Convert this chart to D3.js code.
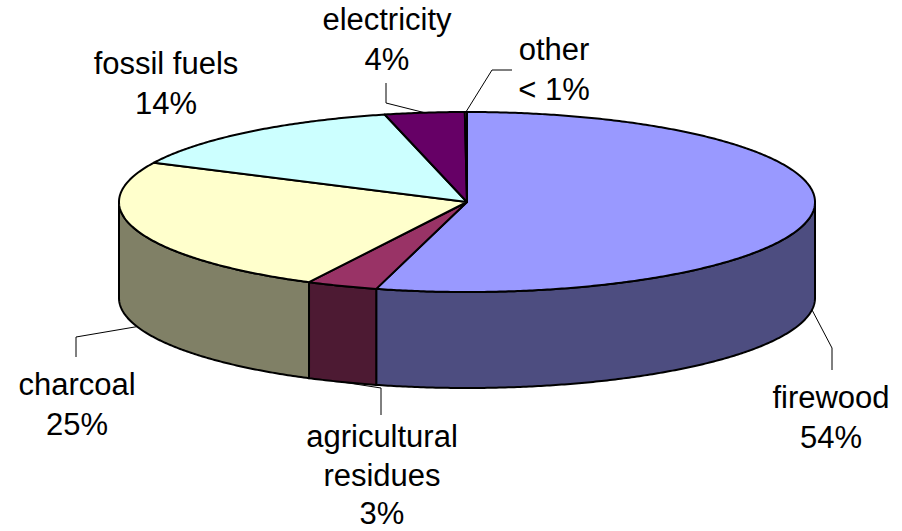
<!DOCTYPE html>
<html>
<head>
<meta charset="utf-8">
<script src="https://cdn.jsdelivr.net/npm/d3@7"></script>
<style>
  html, body { margin: 0; padding: 0; background: #fff; }
  svg { display: block; }
</style>
</head>
<body>
<svg id="chart" width="902" height="531"></svg>
<script>
// ---- data ----
const categories = ["firewood", "agricultural residues", "charcoal", "fossil fuels", "electricity", "other"];
const values = [54.2, 3.3, 24.7, 14.0, 3.7, 0.1];
const pctLabels = ["54%", "3%", "25%", "14%", "4%", "< 1%"];
const nameLines = [["firewood"], ["agricultural", "residues"], ["charcoal"], ["fossil fuels"], ["electricity"], ["other"]];
const topColors = ["#9999FF", "#993366", "#FFFFCC", "#CCFFFF", "#660066", "#FF8080"];
const sideColors = ["#4D4D80", "#4D1A33", "#808066", "#668080", "#330033", "#804040"];

// ---- layout ----
const W = 902, H = 531;
const cx = 467, cy = 202, rx = 348, ry = 90, depth = 96;
const fontSize = 31, lineH = 39.5;
// label centre x, first baseline y, line height, leader elbow + end (or null)
const labelLayout = [
  { x: 831, y: 408, lh: 39.5, leader: [[832, 348], [832, 370]] },
  { x: 382, y: 447, lh: 38.5, leader: [[381, 388], [381, 415]] },
  { x: 77,  y: 395, lh: 39.5, leader: [[76, 337], [76, 357]] },
  { x: 166, y: 74,  lh: 39.5, leader: null },
  { x: 387, y: 30,  lh: 39.5, leader: [[386, 103], [386, 83]] },
  { x: 554, y: 60,  lh: 39.5, leader: [[492, 70], [512, 70]] }
];

const svg = d3.select("#chart");

const pie = d3.pie().sort(null).value(d => d).startAngle(0).endAngle(2 * Math.PI);
const arcs = pie(values);

// ellipse projection scales
const xs = d3.scaleLinear().domain([-1, 1]).range([cx - rx, cx + rx]);
const ys = d3.scaleLinear().domain([-1, 1]).range([cy + ry, cy - ry]);
const pt = (a, off = 0) => [xs(Math.sin(a)), ys(Math.cos(a)) + off];

function arcPoints(a0, a1, off) {
  const n = Math.max(2, Math.ceil(Math.abs(a1 - a0) / (Math.PI / 360)));
  const pts = [];
  for (let i = 0; i <= n; i++) pts.push(pt(a0 + (a1 - a0) * i / n, off));
  return pts;
}
const line = d3.line();

// sides (front half only)
const g = svg.append("g");
arcs.forEach((d, i) => {
  const s0 = Math.max(d.startAngle, Math.PI / 2);
  const s1 = Math.min(d.endAngle, 3 * Math.PI / 2);
  if (s1 <= s0) return;
  const pts = arcPoints(s0, s1, 0).concat(arcPoints(s1, s0, depth));
  g.append("path")
    .attr("d", line(pts) + "Z")
    .attr("fill", sideColors[i])
    .attr("stroke", "#000")
    .attr("stroke-width", 2)
    .attr("stroke-linejoin", "round");
});

// tops
arcs.forEach((d, i) => {
  const pts = [[cx, cy]].concat(arcPoints(d.startAngle, d.endAngle, 0));
  g.append("path")
    .attr("d", line(pts) + "Z")
    .attr("fill", topColors[i])
    .attr("stroke", "#000")
    .attr("stroke-width", 2)
    .attr("stroke-linejoin", "round");
});

// leader lines
arcs.forEach((d, i) => {
  const L = labelLayout[i];
  if (!L.leader) return;
  const mid = (d.startAngle + d.endAngle) / 2;
  const front = Math.cos(mid) < 0;
  const start = pt(mid, front ? depth : 0);
  svg.append("path")
    .attr("d", line([start].concat(L.leader)))
    .attr("fill", "none")
    .attr("stroke", "#000")
    .attr("stroke-width", 1);
});

// labels
arcs.forEach((d, i) => {
  const L = labelLayout[i];
  const lines = nameLines[i].concat([pctLabels[i]]);
  const t = svg.append("text")
    .attr("text-anchor", "middle")
    .attr("font-family", "'Liberation Sans', Arial, sans-serif")
    .attr("font-size", fontSize)
    .attr("fill", "#000");
  lines.forEach((s, k) => {
    t.append("tspan").attr("x", L.x).attr("y", L.y + k * L.lh).text(s);
  });
});
</script>
</body>
</html>
